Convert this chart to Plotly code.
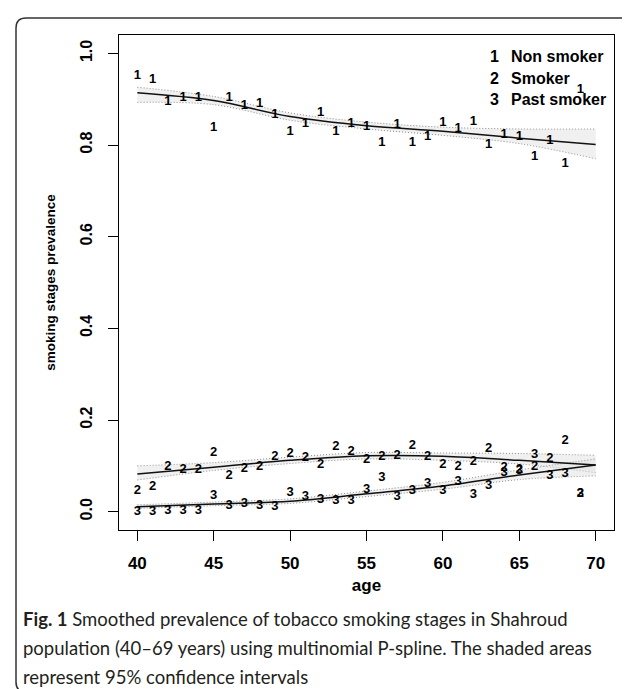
import plotly.graph_objects as go

# ---------------- data ----------------
ages = list(range(40, 70))
non_smoker = [0.951, 0.942, 0.895, 0.904, 0.903, 0.837, 0.904, 0.886, 0.889, 0.866,
              0.828, 0.846, 0.870, 0.830, 0.846, 0.839, 0.804, 0.844, 0.804, 0.817,
              0.848, 0.835, 0.851, 0.800, 0.823, 0.817, 0.775, 0.810, 0.759, 0.921]
smoker = [0.045, 0.054, 0.098, 0.091, 0.091, 0.129, 0.078, 0.094, 0.097, 0.120,
          0.127, 0.118, 0.102, 0.142, 0.131, 0.113, 0.120, 0.121, 0.144, 0.120,
          0.102, 0.098, 0.109, 0.137, 0.096, 0.092, 0.098, 0.115, 0.154, 0.039]
past_smoker = [0.000, 0.000, 0.002, 0.002, 0.002, 0.034, 0.013, 0.018, 0.013, 0.011,
               0.041, 0.033, 0.025, 0.023, 0.023, 0.047, 0.073, 0.033, 0.046, 0.060,
               0.045, 0.065, 0.036, 0.057, 0.085, 0.090, 0.124, 0.078, 0.082, 0.039]

fit_ages = [40, 45, 50, 55, 60, 65, 70]
fit_non = [0.914, 0.897, 0.862, 0.842, 0.830, 0.815, 0.801]
fit_non_lo = [0.893, 0.888, 0.854, 0.835, 0.821, 0.803, 0.770]
fit_non_hi = [0.926, 0.906, 0.870, 0.850, 0.839, 0.835, 0.835]
fit_smk = [0.082, 0.097, 0.112, 0.122, 0.121, 0.112, 0.102]
fit_smk_lo = [0.069, 0.090, 0.105, 0.115, 0.112, 0.104, 0.085]
fit_smk_hi = [0.100, 0.107, 0.119, 0.129, 0.128, 0.127, 0.123]
fit_past = [0.011, 0.017, 0.023, 0.039, 0.056, 0.080, 0.102]
fit_past_lo = [0.007, 0.013, 0.018, 0.033, 0.049, 0.070, 0.078]
fit_past_hi = [0.015, 0.021, 0.028, 0.045, 0.064, 0.091, 0.115]

x_ticks = [40, 45, 50, 55, 60, 65, 70]
y_ticks = [0.0, 0.2, 0.4, 0.6, 0.8, 1.0]
y_ticktext = ["0.0", "0.2", "0.4", "0.6", "0.8", "1.0"]

legend_codes = ["1", "2", "3"]
legend_labels = ["Non smoker", "Smoker", "Past smoker"]

caption_lines = [
    "<b>Fig. 1</b> Smoothed prevalence of tobacco smoking stages in Shahroud",
    "population (40–69 years) using multinomial P-spline. The shaded areas",
    "represent 95% confidence intervals",
]

# ---------------- layout geometry ----------------
W, H = 630, 689
L, R, T, B = 111, 24, 27, 167
PW = W - L - R
PH = H - T - B


def px(x):
    return (x - L) / PW


def py(y):
    return (H - B - y) / PH


FONT = "Liberation Sans, Arial, sans-serif"
fig = go.Figure()

band_fill = "rgba(225,225,225,0.5)"
band_line = dict(color="#8f8f8f", width=1, dash="1px,2px", shape="spline")

for lo, hi in [(fit_non_lo, fit_non_hi), (fit_smk_lo, fit_smk_hi), (fit_past_lo, fit_past_hi)]:
    fig.add_trace(go.Scatter(x=fit_ages, y=lo, mode="lines", line=band_line,
                             showlegend=False, hoverinfo="skip"))
    fig.add_trace(go.Scatter(x=fit_ages, y=hi, mode="lines", line=band_line,
                             fill="tonexty", fillcolor=band_fill,
                             showlegend=False, hoverinfo="skip"))

for fit in [fit_non, fit_smk, fit_past]:
    fig.add_trace(go.Scatter(x=fit_ages, y=fit, mode="lines",
                             line=dict(color="#111111", width=1.5, shape="spline"),
                             showlegend=False))

for vals, code in [(non_smoker, "1"), (smoker, "2"), (past_smoker, "3")]:
    fig.add_trace(go.Scatter(x=ages, y=vals, mode="text", text=[code] * len(ages),
                             textposition="middle center",
                             textfont=dict(family=FONT, size=13, color="black", weight="bold"),
                             showlegend=False))

axis_common = dict(showline=True, linecolor="black", linewidth=1, mirror=True,
                   ticks="outside", ticklen=10, tickwidth=1, tickcolor="black",
                   showgrid=False, zeroline=False)

fig.update_layout(
    width=W, height=H,
    margin=dict(l=L, r=R, t=T, b=B, autoexpand=False),
    paper_bgcolor="white", plot_bgcolor="white",
    xaxis=dict(range=[38.8, 71.2], tickvals=x_ticks, ticktext=[str(v) for v in x_ticks],
               tickfont=dict(family=FONT, size=17, color="black", weight="bold"),
               ticklabelstandoff=8,
               title=dict(text="age", font=dict(family=FONT, size=17, color="black", weight="bold"),
                          standoff=6),
               **axis_common),
    yaxis=dict(range=[-0.04, 1.04], tickvals=y_ticks, ticktext=y_ticktext, tickangle=-90,
               tickfont=dict(family=FONT, size=16, color="black", weight="bold"),
               ticklabelstandoff=10,
               title=dict(text="smoking stages prevalence",
                          font=dict(family=FONT, size=13.5, color="black", weight="bold"),
                          standoff=18),
               **axis_common),
)

# legend (R style, no box)
annotations = []
for i, (code, lab) in enumerate(zip(legend_codes, legend_labels)):
    yy = 49 + 21 * i
    annotations.append(dict(xref="paper", yref="paper", x=px(486), y=py(yy), text=code,
                            showarrow=False, xanchor="center", yanchor="middle",
                            font=dict(family=FONT, size=16, color="black", weight="bold")))
    annotations.append(dict(xref="paper", yref="paper", x=px(501), y=py(yy), text=lab,
                            showarrow=False, xanchor="left", yanchor="middle",
                            font=dict(family=FONT, size=16, color="black", weight="bold")))

# caption
for i, line in enumerate(caption_lines):
    annotations.append(dict(xref="paper", yref="paper", x=px(13), y=py(611 + 29 * i),
                            text=line, showarrow=False, xanchor="left", yanchor="middle",
                            font=dict(family="Lato, Open Sans, sans-serif", size=18.5,
                                      color="#231f20")))
fig.update_layout(annotations=annotations)

# outer rounded frame
x0, x1, y0, y1, r = px(8), px(626), py(10), py(684), 10 / PW
path = (f"M {x0 + r} {y0} L {x1 - r} {y0} Q {x1} {y0} {x1} {y0 - r} "
        f"L {x1} {y1 + r} Q {x1} {y1} {x1 - r} {y1} L {x0 + r} {y1} "
        f"Q {x0} {y1} {x0} {y1 + r} L {x0} {y0 - r} Q {x0} {y0} {x0 + r} {y0} Z")
fig.add_shape(type="path", xref="paper", yref="paper", path=path,
              line=dict(color="#333333", width=1.5), layer="above")

fig.write_html("out.html")
